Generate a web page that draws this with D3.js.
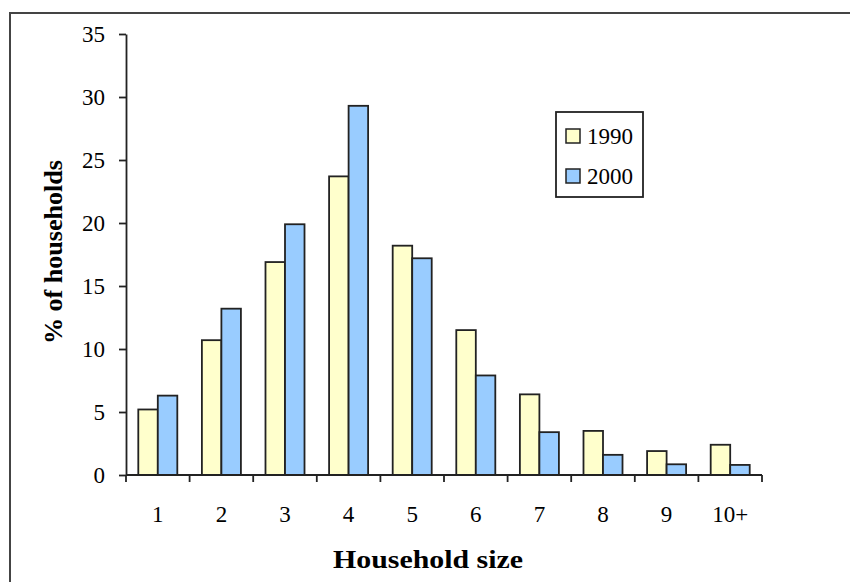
<!DOCTYPE html>
<html>
<head>
<meta charset="utf-8">
<script src="https://cdn.jsdelivr.net/npm/d3@7"></script>
<style>
  body { margin: 0; background: #fff; }
  svg text { font-family: "Liberation Serif", "Times New Roman", serif; fill: #000; }
</style>
</head>
<body>
<div id="chart"></div>
<script>
(function() {
  var categories = ["1", "2", "3", "4", "5", "6", "7", "8", "9", "10+"];
  var values1990 = [5.2, 10.7, 16.9, 23.7, 18.2, 11.5, 6.4, 3.5, 1.9, 2.4];
  var values2000 = [6.3, 13.2, 19.9, 29.3, 17.2, 7.9, 3.4, 1.6, 0.85, 0.8];
  var seriesNames = ["1990", "2000"];
  var seriesColors = ["#ffffcc", "#99ccff"];
  var yTicks = [0, 5, 10, 15, 20, 25, 30, 35];

  var width = 850,
      height = 582,
      plot = {left: 126, right: 762, top: 34, bottom: 475};

  var svg = d3.select("#chart")
    .append("svg")
    .attr("width", width)
    .attr("height", height);

  // outer chart frame (right and bottom edges fall outside the picture)
  svg.append("rect")
    .attr("x", 10)
    .attr("y", 13)
    .attr("width", 900)
    .attr("height", 700)
    .attr("fill", "none")
    .attr("stroke", "#444")
    .attr("stroke-width", 2);

  var x = d3.scaleBand()
    .domain(categories)
    .range([plot.left, plot.right])
    .paddingInner(0)
    .paddingOuter(0);

  var x1 = d3.scaleBand()
    .domain(seriesNames)
    .range([0, x.bandwidth()])
    .paddingInner(0)
    .paddingOuter(0.63);

  var y = d3.scaleLinear()
    .domain([0, 35])
    .range([plot.bottom, plot.top]);

  var data = categories.map(function(c, i) {
    return {cat: c, vals: [values1990[i], values2000[i]]};
  });

  // bars
  var groups = svg.selectAll(".group")
    .data(data)
    .enter().append("g")
      .attr("class", "group")
      .attr("transform", function(d) { return "translate(" + x(d.cat) + ",0)"; });

  groups.selectAll("rect")
    .data(function(d) {
      return d.vals.map(function(v, j) { return {series: seriesNames[j], value: v, j: j}; });
    })
    .enter().append("rect")
      .attr("x", function(d) { return x1(d.series); })
      .attr("y", function(d) { return y(d.value); })
      .attr("width", x1.bandwidth())
      .attr("height", function(d) { return plot.bottom - y(d.value); })
      .attr("fill", function(d) { return seriesColors[d.j]; })
      .attr("stroke", "#222")
      .attr("stroke-width", 1.8);

  // y axis
  var yAxis = d3.axisLeft(y)
    .tickValues(yTicks)
    .tickSize(7)
    .tickPadding(14)
    .tickSizeOuter(0);

  var yg = svg.append("g")
    .attr("transform", "translate(" + plot.left + ",0)")
    .call(yAxis);
  yg.selectAll("line, path").attr("stroke", "#222").attr("stroke-width", 1.8);
  yg.selectAll("text")
    .style("font-size", "23px")
    .style("font-family", "'Liberation Serif', serif");

  // x axis: ticks at category boundaries, labels centered
  var xg = svg.append("g")
    .attr("transform", "translate(0," + plot.bottom + ")");

  xg.append("line")
    .attr("x1", plot.left)
    .attr("x2", plot.right)
    .attr("stroke", "#222")
    .attr("stroke-width", 1.8);

  var bounds = categories.map(function(c) { return x(c); }).concat([plot.right]);
  xg.selectAll(".xtick")
    .data(bounds)
    .enter().append("line")
      .attr("class", "xtick")
      .attr("x1", function(d) { return d; })
      .attr("x2", function(d) { return d; })
      .attr("y1", 0)
      .attr("y2", 7)
      .attr("stroke", "#222")
      .attr("stroke-width", 1.8);

  xg.selectAll(".xlabel")
    .data(categories)
    .enter().append("text")
      .attr("class", "xlabel")
      .attr("x", function(d) { return x(d) + x.bandwidth() / 2; })
      .attr("y", 47)
      .attr("text-anchor", "middle")
      .style("font-size", "23px")
      .text(function(d) { return d; });

  // axis titles
  svg.append("text")
    .attr("x", 428)
    .attr("y", 568)
    .attr("text-anchor", "middle")
    .attr("textLength", 190)
    .attr("lengthAdjust", "spacingAndGlyphs")
    .style("font-size", "26px")
    .style("font-weight", "bold")
    .text("Household size");

  svg.append("text")
    .attr("transform", "translate(62," + 252 + ") rotate(-90)")
    .attr("text-anchor", "middle")
    .attr("textLength", 184)
    .attr("lengthAdjust", "spacingAndGlyphs")
    .style("font-size", "25px")
    .style("font-weight", "bold")
    .text("% of households");

  // legend
  var legend = svg.append("g")
    .attr("transform", "translate(556,112)");

  legend.append("rect")
    .attr("width", 87)
    .attr("height", 85)
    .attr("fill", "#fff")
    .attr("stroke", "#222")
    .attr("stroke-width", 1.8);

  var items = legend.selectAll(".item")
    .data(seriesNames)
    .enter().append("g")
      .attr("class", "item")
      .attr("transform", function(d, i) { return "translate(10," + (17 + i * 40) + ")"; });

  items.append("rect")
    .attr("width", 14)
    .attr("height", 14)
    .attr("fill", function(d, i) { return seriesColors[i]; })
    .attr("stroke", "#222")
    .attr("stroke-width", 1.5);

  items.append("text")
    .attr("x", 21)
    .attr("y", 15)
    .style("font-size", "23px")
    .text(function(d) { return d; });
})();
</script>
</body>
</html>
